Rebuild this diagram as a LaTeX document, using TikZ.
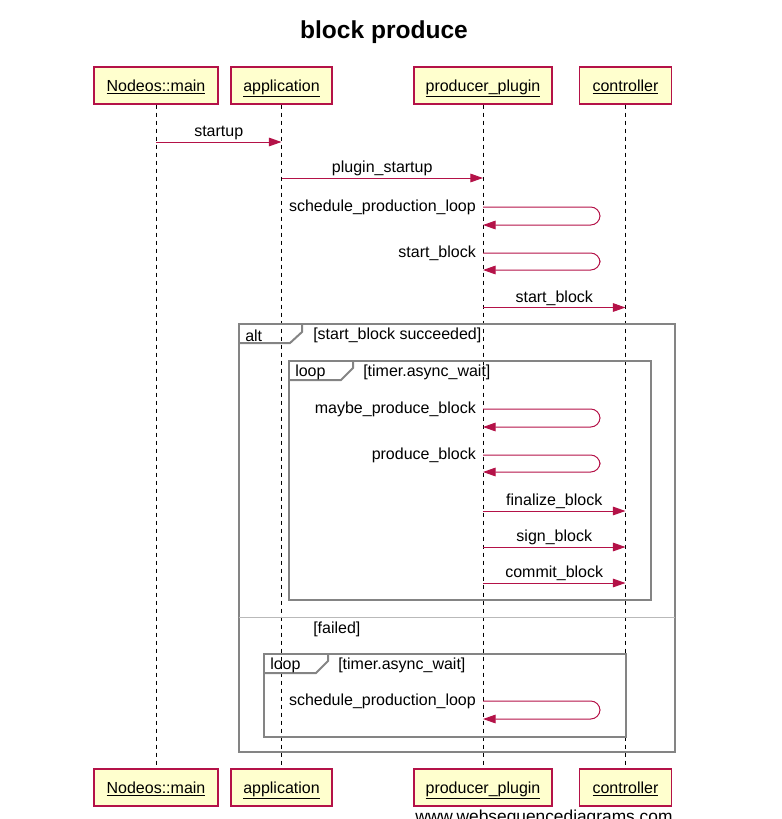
\documentclass[tikz,border=0pt]{standalone}
\usepackage{fontspec}
\setmainfont{Liberation Sans}
\usepackage{xcolor}
\usetikzlibrary{arrows.meta}

\definecolor{msgred}{RGB}{180,18,72}
\definecolor{boxfill}{RGB}{255,255,206}
\definecolor{framegray}{RGB}{132,132,132}
\definecolor{sepgray}{RGB}{185,185,185}

\begin{document}
\begin{tikzpicture}[x=0.75pt, y=-0.75pt,
    every node/.style={font=\fontsize{12}{14}\selectfont},
    actor/.style={draw=msgred, fill=boxfill, line width=0.9pt, minimum height=27.75pt, inner sep=2pt, text height=10pt, text depth=1.4pt},
    lifeline/.style={line width=0.75pt, dash pattern=on 3.5pt off 2.5pt},
    msg/.style={draw=msgred, line width=0.75pt, -{Triangle[length=9.5pt,width=6.5pt]}},
    selfmsg/.style={msg, rounded corners=7pt},
    msglabel/.style={above, inner sep=1pt},
    selflabel/.style={anchor=east, inner sep=2pt, xshift=-3pt},
    frame/.style={draw=framegray, line width=1.5pt},
    framelabel/.style={anchor=west, inner sep=0pt}]

    % Canvas
    \useasboundingbox (0,0) rectangle (782,819);

    % Title
    \node[font=\fontsize{18.4}{22}\selectfont\bfseries] (title) at (384,32) {block produce};

    % Participants (top)
    \node[actor, minimum width=93pt] (mainT) at (156,85.5) {\underline{Nodeos::main}};
    \node[actor, minimum width=75.75pt] (appT) at (281.5,85.5) {\underline{application}};
    \node[actor, minimum width=103.5pt] (ppT) at (483,85.5) {\underline{producer\_plugin}};
    \node[actor, minimum width=69pt] (ctrlT) at (625.5,85.5) {\underline{controller}};

    % Participants (bottom)
    \node[actor, minimum width=93pt] (mainB) at (156,787.5) {\underline{Nodeos::main}};
    \node[actor, minimum width=75.75pt] (appB) at (281.5,787.5) {\underline{application}};
    \node[actor, minimum width=103.5pt] (ppB) at (483,787.5) {\underline{producer\_plugin}};
    \node[actor, minimum width=69pt] (ctrlB) at (625.5,787.5) {\underline{controller}};

    % Lifelines
    \draw[lifeline] (mainT) -- (mainB);
    \draw[lifeline] (appT) -- (appB);
    \draw[lifeline] (ppT) -- (ppB);
    \draw[lifeline] (ctrlT) -- (ctrlB);

    % Message rows
    \coordinate (m1) at (0,142);
    \coordinate (m2) at (0,178);
    \coordinate (s1) at (0,207);
    \coordinate (s2) at (0,253);
    \coordinate (m3) at (0,307.5);
    \coordinate (s3) at (0,409);
    \coordinate (s4) at (0,455);
    \coordinate (m4) at (0,511);
    \coordinate (m5) at (0,547);
    \coordinate (m6) at (0,583);
    \coordinate (s5) at (0,701);

    % Frames
    \draw[frame] (239,324) rectangle (675,752);
    \draw[frame] (239,343) -- (290,343) -- (302,332) -- (302,324);
    \node[framelabel] (altlbl) at (245,335.5) {alt};
    \node[framelabel] (altok) at (313,335.5) {[start\_block succeeded]};
    \draw[sepgray, line width=0.75pt] (239,617) -- (675,617);
    \node[framelabel] (altfail) at (313,629.5) {[failed]};

    \draw[frame] (289,361) rectangle (651,600);
    \draw[frame] (289,380) -- (341,380) -- (353,368) -- (353,361);
    \node[framelabel] (looplblA) at (295,372.5) {loop};
    \node[framelabel] (loopcondA) at (363,372.5) {[timer.async\_wait]};

    \draw[frame] (264,654) rectangle (626,737);
    \draw[frame] (264,673) -- (316,673) -- (328,661) -- (328,654);
    \node[framelabel] (looplblB) at (270,665.5) {loop};
    \node[framelabel] (loopcondB) at (338,665.5) {[timer.async\_wait]};

    % Messages
    \draw[msg] (mainT |- m1) -- node[msglabel] (m1lbl) {startup} (appT |- m1);
    \draw[msg] (appT |- m2) -- node[msglabel] (m2lbl) {plugin\_startup} (ppT |- m2);
    \draw[selfmsg] (ppT |- s1) node[selflabel] (s1lbl) {schedule\_production\_loop}
        -- ++(117,0) -- ++(0,18) -- ++(-117,0);
    \draw[selfmsg] (ppT |- s2) node[selflabel] (s2lbl) {start\_block}
        -- ++(117,0) -- ++(0,17) -- ++(-117,0);
    \draw[msg] (ppT |- m3) -- node[msglabel] (m3lbl) {start\_block} (ctrlT |- m3);

    \draw[selfmsg] (ppT |- s3) node[selflabel] (s3lbl) {maybe\_produce\_block}
        -- ++(117,0) -- ++(0,18) -- ++(-117,0);
    \draw[selfmsg] (ppT |- s4) node[selflabel] (s4lbl) {produce\_block}
        -- ++(117,0) -- ++(0,17) -- ++(-117,0);
    \draw[msg] (ppT |- m4) -- node[msglabel] (m4lbl) {finalize\_block} (ctrlT |- m4);
    \draw[msg] (ppT |- m5) -- node[msglabel] (m5lbl) {sign\_block} (ctrlT |- m5);
    \draw[msg] (ppT |- m6) -- node[msglabel] (m6lbl) {commit\_block} (ctrlT |- m6);

    \draw[selfmsg] (ppT |- s5) node[selflabel] (s5lbl) {schedule\_production\_loop}
        -- ++(117,0) -- ++(0,18) -- ++(-117,0);

    % Watermark
    \node[anchor=base west, inner sep=0pt, font=\fontsize{13}{15}\selectfont] (wsd) at (415,822) {www.websequencediagrams.com};
\end{tikzpicture}
\end{document}
